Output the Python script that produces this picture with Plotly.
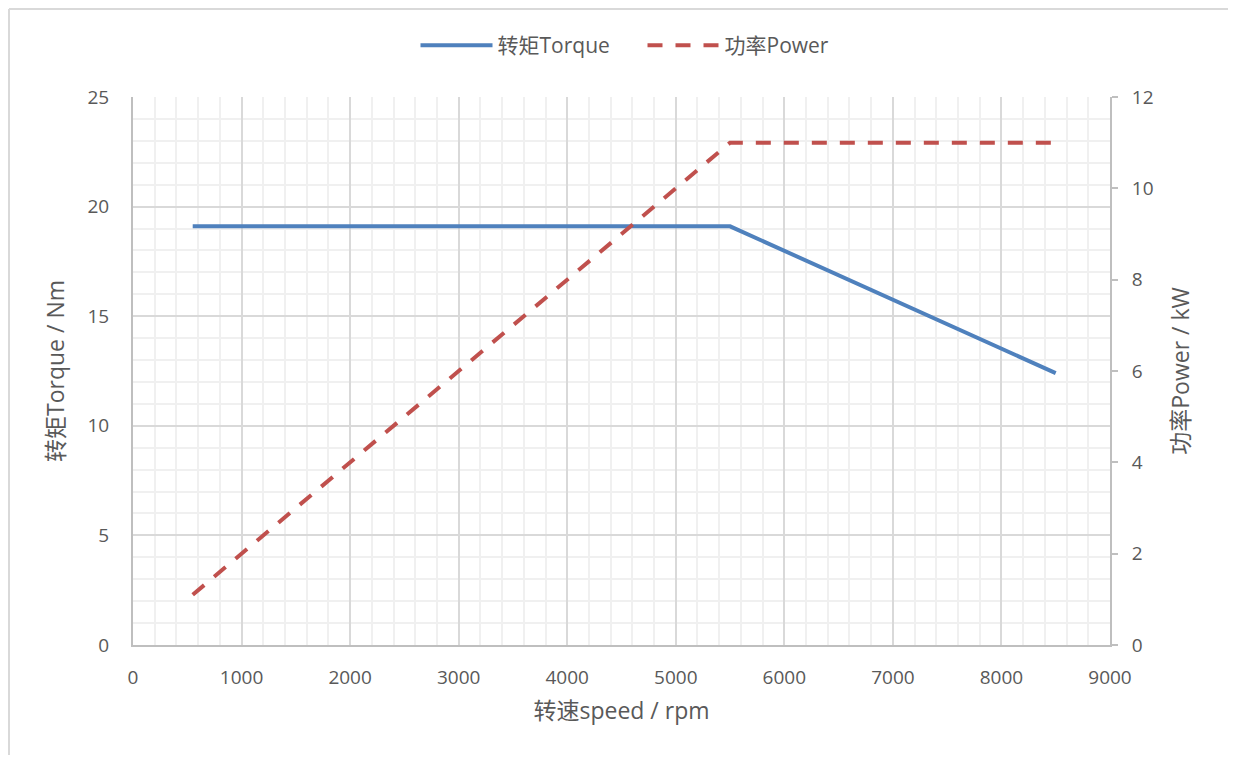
import plotly.graph_objects as go

speed_rpm = [550, 5500, 8500]
torque_nm = [19.1, 19.1, 12.4]
power_kw = [1.1, 11.0, 11.0]

FONT = "Open Sans, Noto Sans CJK SC, sans-serif"
TXT = "#595959"

fig = go.Figure()
fig.add_trace(go.Scatter(x=speed_rpm, y=torque_nm, mode="lines", name="转矩Torque",
                         line=dict(color="#4F81BD", width=4)))
fig.add_trace(go.Scatter(x=speed_rpm, y=power_kw, mode="lines", name="功率Power", yaxis="y2",
                         line=dict(color="#C0504D", width=4, dash="15px,13px")))

W, H = 1220, 747
L, T, PW, PH = 125, 89, 977, 548

fig.update_layout(
    width=W, height=H,
    margin=dict(l=L, r=W - L - PW, t=T, b=H - T - PH),
    paper_bgcolor="white", plot_bgcolor="white",
    font=dict(family=FONT, color=TXT, size=19),
    showlegend=True,
    legend=dict(orientation="h", x=0.5 + 21 / PW, xanchor="center", y=1 + 31 / PH, yanchor="bottom",
                font=dict(size=21, color=TXT), itemwidth=72, tracegroupgap=0,
                entrywidth=140, entrywidthmode="pixels"),
    xaxis=dict(range=[0, 9000], dtick=1000, tick0=0,
               showgrid=True, gridcolor="#D9D9D9", gridwidth=1.5,
               minor=dict(dtick=200, showgrid=True, gridcolor="#F0F0F0", gridwidth=1.5),
               showline=True, linecolor="#BFBFBF", linewidth=2,
               ticks="", zeroline=False, ticklabelstandoff=14,
               title=dict(text="转速speed / rpm", font=dict(size=23, color=TXT), standoff=14),
               tickfont=dict(size=19, color=TXT)),
    yaxis=dict(range=[0, 25], dtick=5, tick0=0,
               showgrid=True, gridcolor="#D9D9D9", gridwidth=1.5,
               minor=dict(dtick=1, showgrid=True, gridcolor="#F0F0F0", gridwidth=1.5),
               showline=True, linecolor="#BFBFBF", linewidth=2,
               ticks="", zeroline=False, ticklabelstandoff=18,
               title=dict(text="转矩Torque / Nm", font=dict(size=23, color=TXT), standoff=16),
               tickfont=dict(size=19, color=TXT)),
    yaxis2=dict(range=[0, 12], dtick=2, tick0=0, overlaying="y", side="right",
                showgrid=False, zeroline=False,
                showline=True, linecolor="#BFBFBF", linewidth=2,
                ticks="outside", ticklen=6, tickcolor="#BFBFBF", tickwidth=1.5,
                ticklabelstandoff=10,
                title=dict(text="功率Power / kW", font=dict(size=23, color=TXT), standoff=20),
                tickfont=dict(size=19, color=TXT)),
)

# outer chart border (top and left)
fig.add_shape(type="line", xref="paper", yref="paper",
              x0=(1 - L) / PW, x1=(W - L) / PW, y0=1 + (T - 1) / PH, y1=1 + (T - 1) / PH,
              line=dict(color="#D9D9D9", width=2))
fig.add_shape(type="line", xref="paper", yref="paper",
              x0=(1 - L) / PW, x1=(1 - L) / PW, y0=-(H - T - PH) / PH, y1=1 + (T - 1) / PH,
              line=dict(color="#D9D9D9", width=2))

fig.write_html("out.html")
